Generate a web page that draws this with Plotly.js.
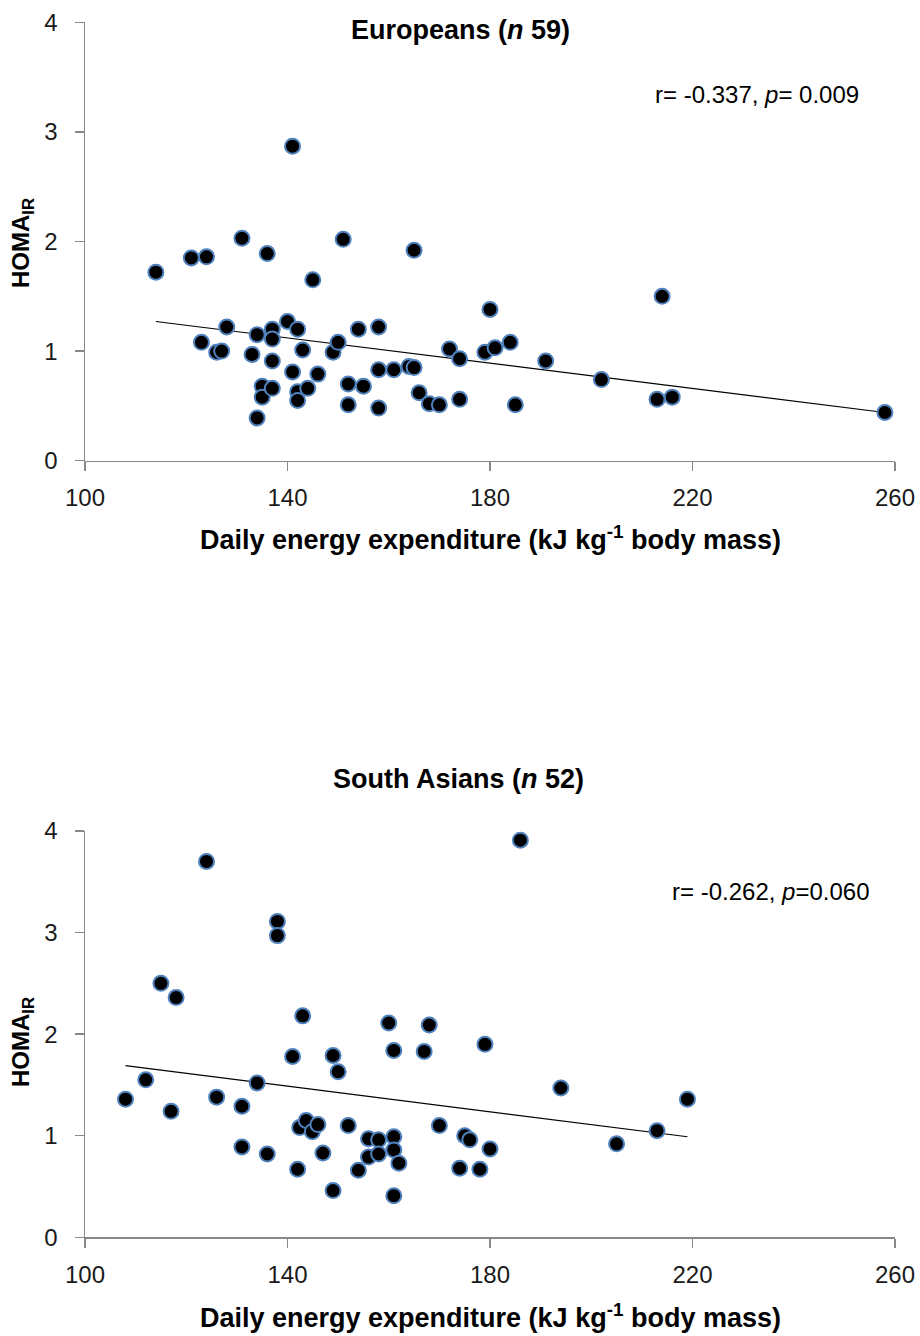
<!DOCTYPE html>
<html>
<head>
<meta charset="utf-8">
<script src="https://cdn.plot.ly/plotly-3.0.1.min.js"></script>
<style>html,body{margin:0;padding:0;background:#fff;}#chart{width:920px;height:1336px;}</style>
</head>
<body>
<div id="chart"></div>
<script>
// Europeans (n 59)
const eurEnergy = [114,121,124,131,136,141,151,145,165,180,123,126,127,128,133,134,137,137,137,135,135,137,134,140,142,143,141,142,142,144,146,149,150,152,152,154,155,158,158,158,161,164,165,166,168,170,172,174,174,179,181,184,185,191,202,214,213,216,258];
const eurHoma = [1.72,1.85,1.86,2.03,1.89,2.87,2.02,1.65,1.92,1.38,1.08,0.99,1.00,1.22,0.97,1.15,1.20,1.11,0.91,0.68,0.58,0.66,0.39,1.27,1.20,1.01,0.81,0.63,0.55,0.66,0.79,0.99,1.08,0.70,0.51,1.20,0.68,1.22,0.83,0.48,0.83,0.86,0.85,0.62,0.52,0.51,1.02,0.93,0.56,0.99,1.03,1.08,0.51,0.91,0.74,1.50,0.56,0.58,0.44];
const eurTrendX = [114, 258];
const eurTrendY = [1.27, 0.44];

// South Asians (n 52)
const saEnergy = [108,112,115,118,117,124,126,131,131,134,136,138,138,141,143,142,142.4,143.7,144.9,146,147,149,150,149,152,154,156,156,158,158,160,161,161,161,162,161,167,168,170,174,175,176,178,179,180,186,194,205,213,219];
const saHoma = [1.36,1.55,2.50,2.36,1.24,3.70,1.38,1.29,0.89,1.52,0.82,3.11,2.97,1.78,2.18,0.67,1.08,1.15,1.04,1.11,0.83,1.79,1.63,0.46,1.10,0.66,0.97,0.79,0.96,0.82,2.11,1.84,0.99,0.86,0.73,0.41,1.83,2.09,1.10,0.68,1.00,0.96,0.67,1.90,0.87,3.91,1.47,0.92,1.05,1.36];
const saTrendX = [108, 219];
const saTrendY = [1.69, 0.99];

const xTickVals = [100,140,180,220,260];
const yTickVals = [0,1,2,3,4];
const titles = ['Europeans (<i>n</i> 59)', 'South Asians (<i>n</i> 52)'];
const stats = ['r= -0.337, <i>p</i>= 0.009', 'r= -0.262, <i>p</i>=0.060'];
const xTitle = 'Daily energy expenditure (kJ kg<sup>-1</sup> body mass)';
const yTitle = 'HOMA<sub>IR</sub>';

const W = 920, H = 1336;
const FONT = 'Liberation Sans, Arial, Helvetica, sans-serif';
const px = v => v / W;
const py = v => 1 - v / H;

const marker = {color: '#000000', size: 15, line: {color: '#4f81bd', width: 2}};

const traces = [
  {x: eurTrendX, y: eurTrendY, xaxis: 'x', yaxis: 'y', mode: 'lines', line: {color: '#000', width: 1.2}, hoverinfo: 'skip'},
  {x: eurEnergy, y: eurHoma, xaxis: 'x', yaxis: 'y', mode: 'markers', marker: marker},
  {x: saTrendX, y: saTrendY, xaxis: 'x2', yaxis: 'y2', mode: 'lines', line: {color: '#000', width: 1.2}, hoverinfo: 'skip'},
  {x: saEnergy, y: saHoma, xaxis: 'x2', yaxis: 'y2', mode: 'markers', marker: marker}
];

function xAxis(anchor) {
  return {
    domain: [px(85), px(895)], range: [100, 260], tickvals: xTickVals, anchor: anchor,
    showline: true, linecolor: '#888888', linewidth: 1.5, ticks: 'outside', ticklen: 9,
    tickcolor: '#888888', tickwidth: 1.5, showgrid: false, zeroline: false,
    tickfont: {family: FONT, size: 24, color: '#1a1a1a'}, ticklabelstandoff: 6, fixedrange: true
  };
}
function yAxis(anchor, top, bottom) {
  return {
    domain: [py(bottom), py(top)], range: [0, 4], tickvals: yTickVals, anchor: anchor,
    showline: true, linecolor: '#888888', linewidth: 1.5, ticks: 'outside', ticklen: 9,
    tickcolor: '#888888', tickwidth: 1.5, showgrid: false, zeroline: false,
    tickfont: {family: FONT, size: 24, color: '#1a1a1a'}, ticklabelstandoff: 12, fixedrange: true
  };
}

const ann = (text, x, y, opts) => Object.assign({
  text: text, x: px(x), y: py(y), xref: 'paper', yref: 'paper', showarrow: false,
  xanchor: 'center', yanchor: 'middle', font: {family: FONT, size: 24, color: '#000'}
}, opts || {});
const boldFont = size => ({family: FONT, size: size, color: '#000', weight: 'bold'});

const layout = {
  width: W, height: H,
  margin: {l: 0, r: 0, t: 0, b: 0},
  paper_bgcolor: '#fff', plot_bgcolor: '#fff',
  showlegend: false,
  xaxis: xAxis('y'),
  yaxis: yAxis('x', 22.3, 460.7),
  xaxis2: xAxis('y2'),
  yaxis2: yAxis('x2', 831, 1237.3),
  annotations: [
    ann(titles[0], 460, 30, {font: boldFont(27)}),
    ann(titles[1], 458, 779, {font: boldFont(27)}),
    ann(stats[0], 653, 94, {xanchor: 'left'}),
    ann(stats[1], 670, 891, {xanchor: 'left'}),
    ann(xTitle, 490, 538, {font: boldFont(27)}),
    ann(xTitle, 490, 1316, {font: boldFont(27)}),
    ann(yTitle, 22, 243, {textangle: -90, font: boldFont(24)}),
    ann(yTitle, 22, 1042, {textangle: -90, font: boldFont(24)})
  ]
};

Plotly.newPlot('chart', traces, layout, {displayModeBar: false, staticPlot: true});
</script>
</body>
</html>
